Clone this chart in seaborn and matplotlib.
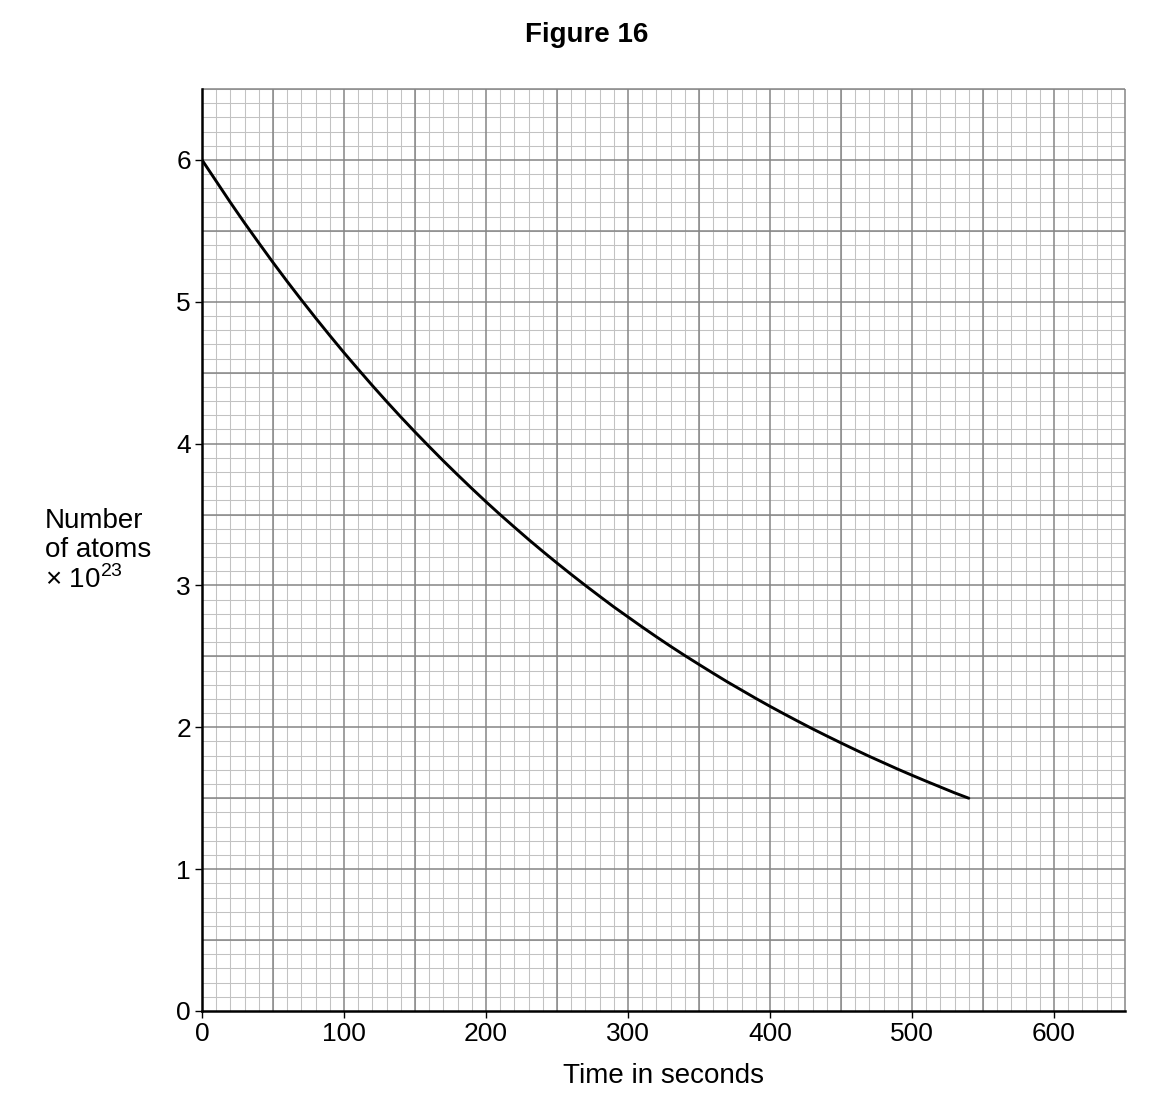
import numpy as np
import pandas as pd
import matplotlib
matplotlib.use("Agg")
import matplotlib.pyplot as plt
import seaborn as sns

# values (time in s, atoms x 10^23)
time_s = [0, 10, 20, 30, 40, 50, 60, 70, 80, 90, 100, 110, 120, 130, 140,
          150, 160, 170, 180, 190, 200, 210, 220, 230, 240, 250, 260, 270,
          280, 290, 300, 310, 320, 330, 340, 350, 360, 370, 380, 390, 400,
          410, 420, 430, 440, 450, 460, 470, 480, 490, 500, 510, 520, 530, 540]
atoms = [6.00, 5.85, 5.70, 5.555, 5.415, 5.277, 5.143, 5.013, 4.886, 4.762,
         4.641, 4.524, 4.409, 4.297, 4.188, 4.082, 3.979, 3.878, 3.780, 3.684,
         3.590, 3.499, 3.411, 3.324, 3.240, 3.158, 3.078, 3.000, 2.924, 2.849,
         2.778, 2.707, 2.638, 2.571, 2.506, 2.443, 2.381, 2.320, 2.262, 2.204,
         2.148, 2.094, 2.041, 1.989, 1.939, 1.890, 1.842, 1.795, 1.750, 1.705,
         1.662, 1.620, 1.579, 1.538, 1.500]

x_ticks = [0, 100, 200, 300, 400, 500, 600]
y_ticks = [0, 1, 2, 3, 4, 5, 6]

df = pd.DataFrame({"time": time_s, "atoms": atoms})

sns.set_style("white")
plt.rcParams["font.family"] = ["Liberation Sans", "DejaVu Sans"]
plt.rcParams["mathtext.fontset"] = "custom"
plt.rcParams["mathtext.rm"] = "Liberation Sans"
plt.rcParams["text.color"] = "black"
plt.rcParams["axes.labelcolor"] = "black"
plt.rcParams["xtick.color"] = "black"
plt.rcParams["ytick.color"] = "black"

fig = plt.figure(figsize=(11.6, 11), dpi=100)
ax = fig.add_axes([202 / 1160, 1 - 1011 / 1100, 923 / 1160, 922 / 1100])

ax.set_xlim(0, 650)
ax.set_ylim(0, 6.5)

# graph paper: fine squares
ax.set_xticks(np.arange(0, 651, 10), minor=True)
ax.set_yticks(np.arange(0, 6.51, 0.1), minor=True)
ax.grid(which="minor", color="#c2c2c2", lw=0.75, zorder=0)
ax.grid(which="major", visible=False)

# heavier lines every 50 s / 0.5
ax.vlines(np.arange(50, 651, 50), 0, 6.5, color="#858585", lw=1.1, zorder=1, clip_on=False)
ax.hlines(np.arange(0.5, 6.51, 0.5), 0, 650, color="#858585", lw=1.1, zorder=1, clip_on=False)

sns.lineplot(data=df, x="time", y="atoms", color="black", lw=2.1, ax=ax, zorder=3)

ax.set_xticks(x_ticks)
ax.set_yticks(y_ticks)
ax.tick_params(which="major", direction="out", length=5, width=1.0, color="black",
               labelsize=19, pad=3, bottom=True, left=True)
ax.tick_params(which="minor", length=0)

for side in ["top", "right"]:
    ax.spines[side].set_visible(False)
for side in ["left", "bottom"]:
    ax.spines[side].set_color("black")
    ax.spines[side].set_linewidth(1.8)
    ax.spines[side].set_zorder(4)

ax.set_xlabel("Time in seconds", fontsize=20, labelpad=12)
ax.set_ylabel("")

fig.text(45 / 1160, 1 - 551 / 1100, "Number\nof atoms\n× 10$^{23}$",
         ha="left", va="center", fontsize=20, linespacing=1.15)
fig.text(587 / 1160, 1 - 35 / 1100, "Figure 16", ha="center", va="center",
         fontsize=20, fontweight="bold")

fig.savefig("out.png", dpi=100)
